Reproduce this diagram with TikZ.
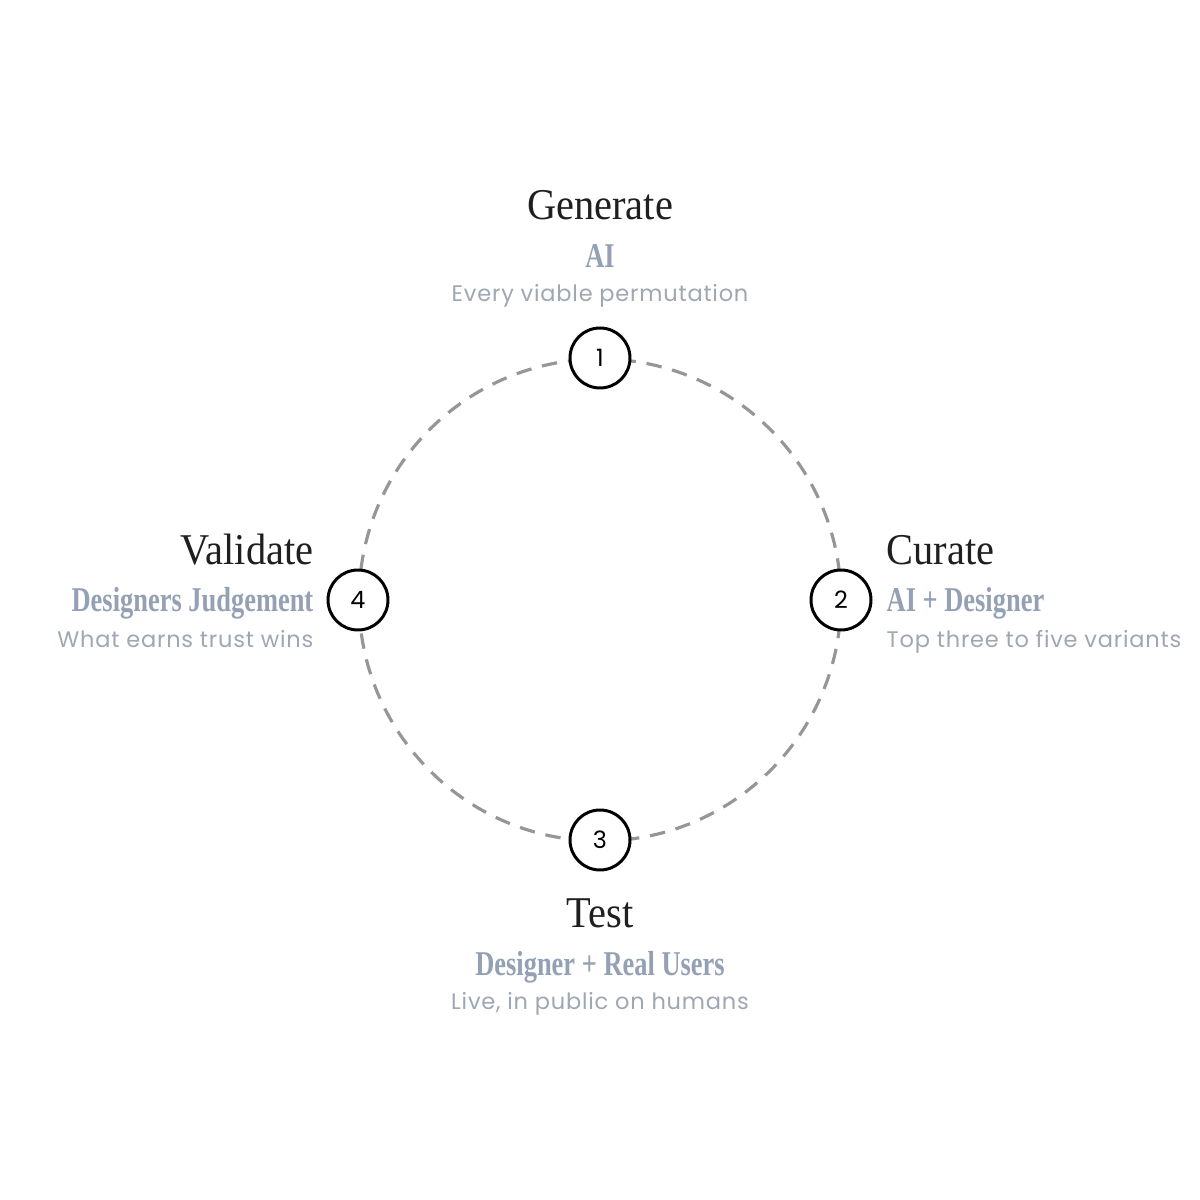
\documentclass[tikz,border=0pt]{standalone}
\usepackage{fontspec}
\usepackage{xcolor}
\usetikzlibrary{positioning}

\newfontfamily\titlefont[FakeStretch=0.92]{Liberation Serif}
\newfontfamily\rolefont[FakeStretch=0.76]{Liberation Serif}
\newfontfamily\notefont[LetterSpace=3.5]{Poppins}
\newfontfamily\numfont{Poppins}

\definecolor{rolegray}{HTML}{94A0B4}
\definecolor{notegray}{HTML}{9FA7B2}
\definecolor{ringgray}{HTML}{969696}

\begin{document}
\begin{tikzpicture}[
    stepnum/.style={circle, draw=black, line width=0.85pt, fill=white,
        minimum size=0.6cm, inner sep=0pt, font=\numfont\fontsize{6.8}{7}\selectfont},
    title/.style={inner sep=0pt, text=black!88, font=\titlefont\fontsize{12.5}{14}\selectfont},
    role/.style={inner sep=0pt, text=rolegray, font=\rolefont\bfseries\fontsize{9.9}{11}\selectfont},
    note/.style={inner sep=0pt, text=notegray, font=\notefont\fontsize{6.4}{7}\selectfont}]
    \useasboundingbox (0,0) rectangle (12,12);
    \fill[white] (0,0) rectangle (12,12);

    \coordinate (C) at (6,6);

    % dashed ring
    \draw[ringgray, line width=0.9pt, dash pattern=on 4.4pt off 3.1pt] (C) circle (2.41);

    % steps
    \node[stepnum] (s1) at (6,8.42) {1};
    \node[stepnum] (s2) at (8.41,6) {2};
    \node[stepnum] (s3) at (6,3.60) {3};
    \node[stepnum] (s4) at (3.58,6) {4};

    % generate
    \node[title, anchor=base] (gen) at (6,9.80) {Generate};
    \node[role, anchor=base] (genrole) at (6,9.32) {AI};
    \node[note, anchor=base] (gennote) at (6,8.98) {Every viable permutation};

    % curate
    \node[title, anchor=base west] (cur) at (8.86,6.35) {Curate};
    \node[role, anchor=base west] (currole) at (8.86,5.88) {AI + Designer};
    \node[note, anchor=base west] (curnote) at (8.86,5.52) {Top three to five variants};

    % test
    \node[title, anchor=base] (tst) at (6,2.72) {Test};
    \node[role, anchor=base] (tstrole) at (6,2.25) {Designer + Real Users};
    \node[note, anchor=base] (tstnote) at (6,1.90) {Live, in public on humans};

    % validate
    \node[title, anchor=base east] (val) at (3.14,6.35) {Validate};
    \node[role, anchor=base east] (valrole) at (3.14,5.88) {Designers Judgement};
    \node[note, anchor=base east] (valnote) at (3.14,5.52) {What earns trust wins};
\end{tikzpicture}
\end{document}
